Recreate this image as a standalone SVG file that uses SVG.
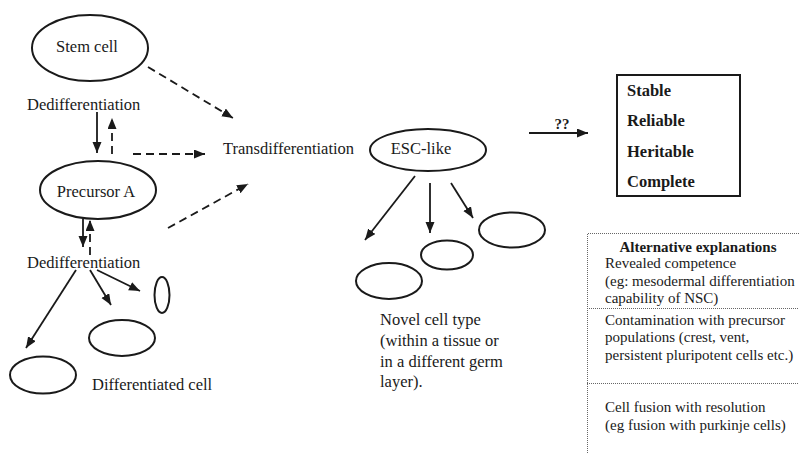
<svg xmlns="http://www.w3.org/2000/svg" width="799" height="453" viewBox="0 0 799 453">
<defs>
<marker id="ah" markerUnits="userSpaceOnUse" markerWidth="12" markerHeight="10" refX="11" refY="4.5" orient="auto">
<path d="M0,0 L11,4.5 L0,9 z" fill="#1a1a1a"/>
</marker>
<style>
.t{font-family:'Liberation Serif','Tinos','DejaVu Serif',serif;font-size:16.5px;fill:#1a1a1a}
.b{font-weight:bold}
.s{font-size:15px}
.cell{fill:none;stroke:#1a1a1a;stroke-width:2}
.a{fill:none;stroke:#1a1a1a;stroke-width:1.8;marker-end:url(#ah)}
.d{stroke-dasharray:8 5}
.dot{fill:none;stroke:#666;stroke-width:1;stroke-dasharray:1 1}
</style>
</defs>
<rect width="799" height="453" fill="#fff"/>

<g id="connectors">
<line class="a d" x1="148" y1="67" x2="233" y2="118"/>
<line class="a" x1="97" y1="112" x2="97" y2="153"/>
<line class="a d" x1="112" y1="154" x2="112" y2="118"/>
<line class="a d" x1="133" y1="154" x2="205" y2="154"/>
<line class="a d" x1="168" y1="228" x2="248" y2="184"/>
<line class="a" x1="83" y1="219" x2="83" y2="247"/>
<line class="a d" x1="90" y1="255" x2="90" y2="220"/>
<line class="a" x1="76" y1="270" x2="26" y2="348"/>
<line class="a" x1="90" y1="270" x2="111" y2="305"/>
<line class="a" x1="97" y1="270" x2="140" y2="291"/>
<line class="a" x1="415" y1="176" x2="365" y2="240"/>
<line class="a" x1="430" y1="183" x2="430" y2="233"/>
<line class="a" x1="451" y1="183" x2="473" y2="218"/>
<line class="a" x1="529" y1="133" x2="588" y2="133"/>
</g>

<g id="stem-cell">
<ellipse class="cell" cx="90" cy="48" rx="58" ry="33"/>
<text class="t" x="87" y="52" text-anchor="middle" font-family="Liberation Serif, serif">Stem cell</text>
</g>
<g id="dediff-1"><text class="t" x="27" y="110">Dedifferentiation</text></g>
<g id="transdiff"><text class="t" x="223" y="154">Transdifferentiation</text></g>
<g id="precursor-a">
<ellipse class="cell" cx="98" cy="190" rx="58" ry="29"/>
<text class="t" x="96" y="197" text-anchor="middle">Precursor A</text>
</g>
<g id="dediff-2"><text class="t" x="27" y="268">Dedifferentiation</text></g>
<g id="diff-cells">
<ellipse class="cell" cx="162" cy="295" rx="7.5" ry="18"/>
<ellipse class="cell" cx="122" cy="338" rx="33" ry="18"/>
<ellipse class="cell" cx="43" cy="375" rx="33" ry="18.5"/>
<text class="t" x="92" y="390">Differentiated cell</text>
</g>
<g id="esc-like">
<ellipse class="cell" cx="428" cy="150" rx="58" ry="21"/>
<text class="t" x="421" y="154" text-anchor="middle">ESC-like</text>
</g>
<g id="novel-cells">
<ellipse class="cell" cx="512" cy="230" rx="33" ry="17.5"/>
<ellipse class="cell" cx="447" cy="255" rx="26" ry="14.5"/>
<ellipse class="cell" cx="389" cy="281" rx="33" ry="18"/>
<text class="t" x="380" y="325">Novel cell type</text>
<text class="t" x="380" y="346">(within a tissue or</text>
<text class="t" x="380" y="367">in a different germ</text>
<text class="t" x="380" y="387">layer).</text>
</g>
<g id="qq"><text class="t b s" x="562" y="129" text-anchor="middle">??</text></g>
<g id="criteria">
<rect x="617" y="75" width="123" height="121" fill="none" stroke="#1a1a1a" stroke-width="2"/>
<text class="t b" x="627" y="96">Stable</text>
<text class="t b" x="627" y="126">Reliable</text>
<text class="t b" x="627" y="157">Heritable</text>
<text class="t b" x="627" y="187">Complete</text>
</g>
<g id="alternatives">
<path class="dot" d="M587.5,453 V233.5 H799"/>
<line class="dot" x1="587" y1="308.5" x2="799" y2="308.5"/>
<line class="dot" x1="587" y1="383.5" x2="799" y2="383.5"/>
<text class="t b s" x="698" y="252" text-anchor="middle" font-size="14.5">Alternative explanations</text>
<text class="t s" x="605" y="268">Revealed competence</text>
<text class="t s" x="605" y="286">(eg: mesodermal differentiation</text>
<text class="t s" x="605" y="303">capability of NSC)</text>
<text class="t s" x="605" y="325">Contamination with precursor</text>
<text class="t s" x="605" y="342">populations (crest, vent,</text>
<text class="t s" x="605" y="360">persistent pluripotent cells etc.)</text>
<text class="t s" x="605" y="412">Cell fusion with resolution</text>
<text class="t s" x="605" y="430">(eg fusion with purkinje cells)</text>
</g>
</svg>
